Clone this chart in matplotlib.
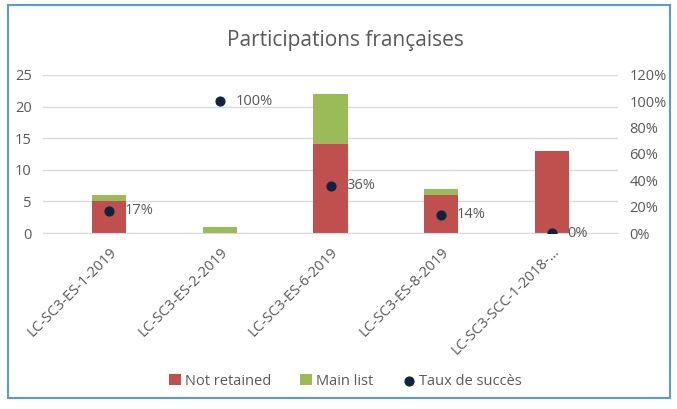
import matplotlib.pyplot as plt
import numpy as np
from matplotlib.patches import Rectangle

# data
categories = ['LC-SC3-ES-1-2019', 'LC-SC3-ES-2-2019', 'LC-SC3-ES-6-2019',
              'LC-SC3-ES-8-2019', 'LC-SC3-SCC-1-2018-\u2026']
not_retained = [5, 0, 14, 6, 13]
main_list = [1, 1, 8, 1, 0]
taux = [0.17, 1.00, 0.36, 0.14, 0.00]
taux_labels = ['17%', '100%', '36%', '14%', '0%']

plt.rcParams['font.family'] = ['Open Sans', 'DejaVu Sans']
grey = '#595959'

fig = plt.figure(figsize=(6.77, 4.09), dpi=100)
ax = fig.add_axes([0.0635, 0.430, 0.8495, 0.387])
ax2 = ax.twinx()

xs = np.arange(len(categories))
w = 0.31
ax.bar(xs, not_retained, w, color='#C0504D', label='Not retained', zorder=2)
ax.bar(xs, main_list, w, bottom=not_retained, color='#9BBB59', label='Main list', zorder=2)

ax2.scatter(xs, taux, s=40, color='#0F243E', label='Taux de succès', zorder=3)
for x, y, t in zip(xs, taux, taux_labels):
    ax2.annotate(t, (x, y), xytext=(11, 0), textcoords='offset points',
                 va='center', ha='left', fontsize=10.5, color=grey)

ax.set_xlim(-0.6, len(categories) - 0.4)
ax.set_ylim(0, 25)
ax.set_yticks(range(0, 26, 5))
ax2.set_ylim(0, 1.2)
ax2.set_yticks(np.arange(0, 1.21, 0.2))
ax2.set_yticklabels(['%d%%' % round(v * 100) for v in np.arange(0, 1.21, 0.2)])

ax.set_xticks(xs)
ax.set_xticklabels(categories, rotation=45, ha='right', rotation_mode='anchor')
ax.yaxis.grid(True, color='#D9D9D9', lw=1, zorder=0)
ax.set_axisbelow(True)

for a in (ax, ax2):
    for s in a.spines.values():
        s.set_visible(False)
    a.tick_params(length=0, labelsize=10.5, colors=grey, pad=8)
ax.spines['bottom'].set_visible(True)
ax.spines['bottom'].set_color('#D9D9D9')

fig.text(0.51, 0.9, 'Participations françaises', ha='center', va='center',
         fontsize=15, color=grey)

h1, l1 = ax.get_legend_handles_labels()
h2, l2 = ax2.get_legend_handles_labels()
fig.legend(h1 + h2, l1 + l2, loc='center', bbox_to_anchor=(0.51, 0.068), ncol=3,
           frameon=False, fontsize=10.5, labelcolor=grey, handlelength=0.8,
           handletextpad=0.3, columnspacing=2.0)

fig.patches.append(Rectangle((0.012, 0.027), 0.978, 0.96, transform=fig.transFigure,
                             fill=False, edgecolor='#5B9BD5', lw=1.5))

fig.savefig('out.png')
